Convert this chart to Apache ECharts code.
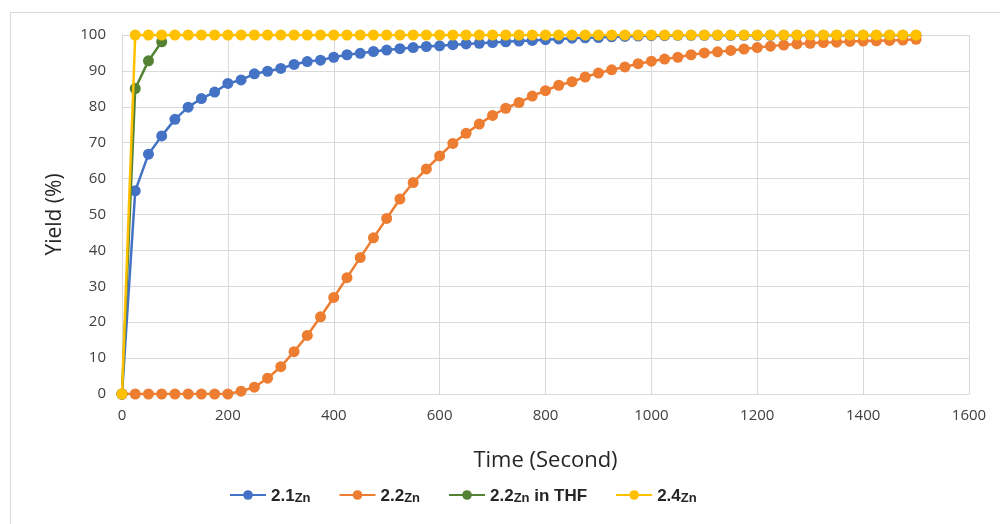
<!DOCTYPE html>
<html>
<head>
<meta charset="utf-8">
<script src="https://cdn.jsdelivr.net/npm/echarts@6/dist/echarts.min.js"></script>
<style>
  html, body { margin: 0; padding: 0; background: #fff; }
  #wrap { position: relative; width: 1000px; height: 524px; }
  #chart { width: 1000px; height: 524px; }
  #frame { position: absolute; left: 10px; top: 12px; right: 0; bottom: 0;
           border-left: 1px solid #d9d9d9; border-top: 1px solid #d9d9d9; pointer-events: none; }
</style>
</head>
<body>
<div id="wrap">
  <div id="chart"></div>
  <div id="frame"></div>
</div>
<script type="text/javascript">
// 时间 (s)
var times = [0, 25, 50, 75, 100, 125, 150, 175, 200, 225, 250, 275, 300, 325, 350, 375, 400,
  425, 450, 475, 500, 525, 550, 575, 600, 625, 650, 675, 700, 725, 750, 775, 800,
  825, 850, 875, 900, 925, 950, 975, 1000, 1025, 1050, 1075, 1100, 1125, 1150, 1175, 1200,
  1225, 1250, 1275, 1300, 1325, 1350, 1375, 1400, 1425, 1450, 1475, 1500];

var seriesNames = ["2.1Zn", "2.2Zn", "2.2Zn in THF", "2.4Zn"];
var seriesColors = ["#4472c4", "#ed7d31", "#548235", "#ffc000"];

var yield21 = [0, 56.6, 66.8, 71.9, 76.5, 79.9, 82.3, 84.1, 86.5,
  87.5, 89.2, 89.9, 90.7, 91.8, 92.6, 93.0, 93.8,
  94.5, 94.9, 95.4, 95.8, 96.2, 96.5, 96.8, 97.0,
  97.3, 97.5, 97.7, 97.9, 98.1, 98.3, 98.5, 98.7,
  98.9, 99.1, 99.2, 99.3, 99.5, 99.6, 99.7, 99.8,
  99.8, 99.9, 99.9, 99.9, 99.9, 99.9, 99.9, 99.9,
  99.9, 99.9, 99.9, 99.9, 99.9, 99.9, 99.9, 99.9,
  99.9, 99.9, 99.9, 99.9];

var yield22 = [0, 0, 0, 0, 0, 0, 0, 0, 0,
  0.8, 1.9, 4.4, 7.6, 11.8, 16.3, 21.5, 26.9, 32.4, 38.0, 43.5, 48.9, 54.3,
  58.9, 62.7, 66.3, 69.8, 72.6, 75.2, 77.6, 79.6, 81.2, 83.0, 84.5,
  86.0, 87.0, 88.3, 89.4, 90.3, 91.1, 92.0, 92.7,
  93.3, 93.8, 94.5, 95.0, 95.3, 95.7, 96.1, 96.5,
  96.9, 97.2, 97.5, 97.7, 97.9, 98.0, 98.2, 98.3,
  98.4, 98.5, 98.6, 98.8];

var yield22THF = [0, 85.1, 92.8, 98.1];

var yield24 = [0, 100, 100, 100, 100, 100, 100, 100, 100,
  100, 100, 100, 100, 100, 100, 100, 100,
  100, 100, 100, 100, 100, 100, 100, 100,
  100, 100, 100, 100, 100, 100, 100, 100,
  100, 100, 100, 100, 100, 100, 100, 100,
  100, 100, 100, 100, 100, 100, 100, 100,
  100, 100, 100, 100, 100, 100, 100, 100,
  100, 100, 100, 100];

function pairs(ys) {
  var out = [];
  for (var i = 0; i < ys.length; i++) {
    out.push([times[i], ys[i]]);
  }
  return out;
}

var allValues = [yield21, yield22, yield22THF, yield24];

var myChart = echarts.init(document.getElementById("chart"));
var fontName = "'Open Sans', sans-serif";

var option = {
  backgroundColor: "#fff",
  animation: false,
  grid: { left: 122, right: 31, top: 35, bottom: 130 },
  legend: {
    bottom: 14,
    left: 224,
    itemWidth: 36,
    itemHeight: 12,
    itemGap: 28,
    data: seriesNames,
    formatter: function (name) {
      return "{n|" + name.replace("Zn", "}{s|Zn}{n|") + "}";
    },
    textStyle: {
      rich: {
        n: { fontSize: 17, fontWeight: "bold", color: "#262626", fontFamily: "Liberation Sans, Arial", lineHeight: 20, verticalAlign: "bottom" },
        s: { fontSize: 13, fontWeight: "bold", color: "#262626", fontFamily: "Liberation Sans, Arial", lineHeight: 20, verticalAlign: "bottom", padding: [4, 0, 0, 0] }
      }
    }
  },
  xAxis: {
    type: "value",
    min: 0,
    max: 1600,
    interval: 200,
    name: "Time (Second)",
    nameLocation: "middle",
    nameGap: 56,
    nameTextStyle: { fontSize: 22, color: "#262626", fontFamily: fontName },
    axisLine: { show: true, lineStyle: { color: "#d9d9d9" } },
    axisTick: { show: false },
    axisLabel: {
      fontSize: 15, color: "#404040", margin: 14, fontFamily: fontName,
      formatter: function (v) { return String(v); }
    },
    splitLine: { show: true, lineStyle: { color: "#d9d9d9" } }
  },
  yAxis: {
    type: "value",
    min: 0,
    max: 100,
    interval: 10,
    name: "Yield (%)",
    nameLocation: "middle",
    nameGap: 56,
    nameTextStyle: { fontSize: 21, color: "#262626", fontFamily: fontName },
    axisLine: { show: true, lineStyle: { color: "#d9d9d9" } },
    axisTick: { show: false },
    axisLabel: { fontSize: 15, color: "#404040", margin: 16, fontFamily: fontName },
    splitLine: { show: true, lineStyle: { color: "#d9d9d9" } }
  },
  series: seriesNames.map(function (name, i) {
    return {
      name: name,
      type: "line",
      data: pairs(allValues[i]),
      symbol: "circle",
      symbolSize: 11,
      showSymbol: true,
      color: seriesColors[i],
      lineStyle: { width: 2.5, color: seriesColors[i] },
      itemStyle: { color: seriesColors[i] },
      z: 2 + i
    };
  })
};
myChart.setOption(option);
</script>
</body>
</html>
